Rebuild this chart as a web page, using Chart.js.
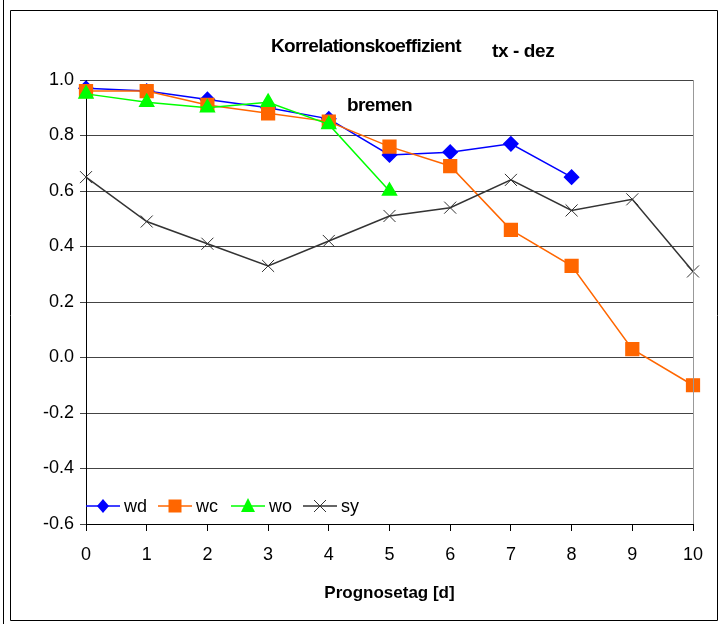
<!DOCTYPE html>
<html>
<head>
<meta charset="utf-8">
<script src="https://cdn.jsdelivr.net/npm/chart.js@4/dist/chart.umd.min.js"></script>
<style>
  html, body { margin: 0; padding: 0; background: #fff; }
  #wrap { width: 724px; height: 624px; position: relative; }
</style>
</head>
<body>
<div id="wrap"><canvas id="corrChart"></canvas></div>
<script>
// Prognosetag (lead day) 0..10
var days = [0, 1, 2, 3, 4, 5, 6, 7, 8, 9, 10];
var wd = [0.97, 0.96, 0.93, 0.90, 0.86, 0.73, 0.74, 0.77, 0.65];
var wc = [0.96, 0.96, 0.91, 0.88, 0.85, 0.76, 0.69, 0.46, 0.33, 0.03, -0.10];
var wo = [0.95, 0.92, 0.90, 0.92, 0.84, 0.60];
var sy = [0.65, 0.49, 0.41, 0.33, 0.42, 0.51, 0.54, 0.64, 0.53, 0.57, 0.31];
var seriesNames = ['wd', 'wc', 'wo', 'sy'];
var yTicks = [-0.6, -0.4, -0.2, 0.0, 0.2, 0.4, 0.6, 0.8, 1.0];

function toPoints(values) {
  return values.map(function(v, i) { return {x: days[i], y: v}; });
}

function drawMarker(ctx, style, x, y, color) {
  ctx.save();
  ctx.fillStyle = color;
  ctx.strokeStyle = color;
  ctx.beginPath();
  if (style === 'rectRot') {
    ctx.moveTo(x, y - 7); ctx.lineTo(x + 6, y); ctx.lineTo(x, y + 7); ctx.lineTo(x - 6, y);
    ctx.closePath(); ctx.fill();
  } else if (style === 'rect') {
    ctx.rect(x - 6.5, y - 6.5, 13, 13); ctx.fill();
  } else if (style === 'triangle') {
    ctx.moveTo(x, y - 8); ctx.lineTo(x + 7, y + 6); ctx.lineTo(x - 7, y + 6);
    ctx.closePath(); ctx.fill();
  } else {
    ctx.lineWidth = 1;
    ctx.moveTo(x - 6, y - 6); ctx.lineTo(x + 6, y + 6);
    ctx.moveTo(x + 6, y - 6); ctx.lineTo(x - 6, y + 6);
    ctx.stroke();
  }
  ctx.restore();
}

var extras = {
  id: 'extras',
  beforeDraw: function(chart) {
    var ctx = chart.ctx;
    ctx.save();
    ctx.fillStyle = '#fff';
    ctx.fillRect(0, 0, chart.width, chart.height);
    ctx.strokeStyle = '#000';
    ctx.lineWidth = 1;
    ctx.beginPath();
    ctx.moveTo(3.5, 0); ctx.lineTo(3.5, 624);
    ctx.moveTo(10.5, 10.5); ctx.lineTo(10.5, 620.5);
    ctx.lineTo(717.5, 620.5); ctx.lineTo(717.5, 10.5); ctx.lineTo(10.5, 10.5);
    ctx.stroke();
    ctx.restore();
  },
  afterDatasetsDraw: function(chart) {
    var ctx = chart.ctx;
    var area = chart.chartArea;
    ctx.save();
    // right edge of the plot area
    ctx.strokeStyle = '#999';
    ctx.lineWidth = 1;
    ctx.beginPath();
    ctx.moveTo(Math.round(area.right) + 0.5, area.top);
    ctx.lineTo(Math.round(area.right) + 0.5, area.bottom);
    ctx.stroke();

    // titles
    ctx.fillStyle = '#000';
    ctx.textBaseline = 'alphabetic';
    ctx.font = 'bold 19px "Liberation Sans", Arial, sans-serif';
    ctx.letterSpacing = '-0.7px';
    ctx.textAlign = 'left';
    ctx.fillText('Korrelationskoeffizient', 271, 52);
    ctx.letterSpacing = '-0.4px';
    ctx.fillText('tx - dez', 492, 57);
    ctx.letterSpacing = '-0.6px';
    ctx.fillText('bremen', 347, 111);
    ctx.letterSpacing = '0px';

    // legend inside the plot area
    var legendX = [86, 158, 231, 303];
    var ly = 506;
    ctx.font = '18px "Liberation Sans", Arial, sans-serif';
    ctx.textBaseline = 'middle';
    chart.data.datasets.forEach(function(ds, i) {
      var x0 = legendX[i];
      ctx.strokeStyle = ds.borderColor;
      ctx.lineWidth = 1.5;
      ctx.beginPath();
      ctx.moveTo(x0, ly); ctx.lineTo(x0 + 34, ly);
      ctx.stroke();
      drawMarker(ctx, ds.pointStyle, x0 + 17, ly, ds.borderColor);
      ctx.fillStyle = '#000';
      ctx.fillText(ds.label, x0 + 38, ly + 1);
    });
    ctx.restore();
  }
};

var ctx = document.getElementById('corrChart').getContext('2d');
new Chart(ctx, {
  type: 'line',
  data: {
    datasets: [
      {label: seriesNames[0], data: toPoints(wd), borderColor: '#0000ff', backgroundColor: '#0000ff', order: 4,
       pointStyle: 'rectRot', pointRadius: 7, pointHoverRadius: 7, borderWidth: 1.5, clip: false},
      {label: seriesNames[1], data: toPoints(wc), borderColor: '#ff6600', backgroundColor: '#ff6600', order: 3,
       pointStyle: 'rect', pointRadius: 9, pointHoverRadius: 9, borderWidth: 1.5, clip: false},
      {label: seriesNames[2], data: toPoints(wo), borderColor: '#00ff00', backgroundColor: '#00ff00', order: 2,
       pointStyle: 'triangle', pointRadius: 8, pointHoverRadius: 8, borderWidth: 1.5, clip: false},
      {label: seriesNames[3], data: toPoints(sy), borderColor: '#333333', backgroundColor: '#333333', order: 1,
       pointStyle: 'crossRot', pointRadius: 8.5, pointHoverRadius: 8.5, borderWidth: 1.5, pointBorderWidth: 1, clip: false}
    ]
  },
  options: {
    responsive: true,
    maintainAspectRatio: false,
    animation: false,
    layout: {padding: {top: 80, right: 31, left: 0, bottom: 20}},
    plugins: {
      legend: {display: false},
      title: {display: false},
      tooltip: {enabled: false}
    },
    scales: {
      x: {
        type: 'linear',
        min: 0,
        max: 10,
        afterFit: function(scale) { scale.height = 80; },
        ticks: {
          stepSize: 1,
          color: '#000',
          padding: 13,
          font: {family: '"Liberation Sans", Arial, sans-serif', size: 18}
        },
        grid: {display: true, drawOnChartArea: false, drawTicks: true, tickLength: 7, color: '#000'},
        border: {display: true, color: '#000', width: 1},
        title: {
          display: true,
          text: 'Prognosetag [d]',
          color: '#000',
          padding: {top: 10, bottom: 0},
          font: {family: '"Liberation Sans", Arial, sans-serif', size: 17, weight: 'bold'}
        }
      },
      y: {
        min: -0.6,
        max: 1.0,
        afterFit: function(scale) { scale.width = 86; },
        afterBuildTicks: function(scale) {
          scale.ticks = yTicks.map(function(v) { return {value: v}; });
        },
        ticks: {
          color: '#000',
          padding: 6,
          font: {family: '"Liberation Sans", Arial, sans-serif', size: 18},
          callback: function(v) { return Number(v).toFixed(1); }
        },
        grid: {color: '#444', lineWidth: 1, drawTicks: true, tickLength: 6},
        border: {display: true, color: '#000', width: 1}
      }
    }
  },
  plugins: [extras]
});
</script>
</body>
</html>
